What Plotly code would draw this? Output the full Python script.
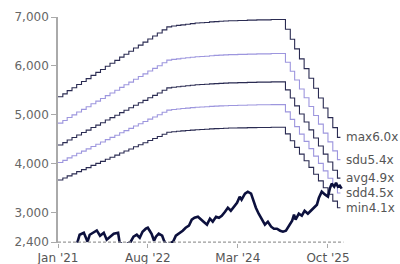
import plotly.graph_objects as go

# ---- data ----
eps_dates = [
    "2021-01-01", "2021-02-01", "2021-03-01", "2021-04-01", "2021-05-01", "2021-06-01",
    "2021-07-01", "2021-08-01", "2021-09-01", "2021-10-01", "2021-11-01", "2021-12-01",
    "2022-01-01", "2022-02-01", "2022-03-01", "2022-04-01", "2022-05-01", "2022-06-01",
    "2022-07-01", "2022-08-01", "2022-09-01", "2022-10-01", "2022-11-01", "2022-12-01",
    "2023-01-01", "2023-02-01", "2023-03-01", "2023-04-01", "2023-05-01", "2023-06-01",
    "2023-07-01", "2023-08-01", "2023-09-01", "2023-10-01", "2023-11-01", "2023-12-01",
    "2024-01-01", "2024-02-01", "2024-03-01", "2024-04-01", "2024-05-01", "2024-06-01",
    "2024-07-01", "2024-08-01", "2024-09-01", "2024-10-01", "2024-11-01", "2024-12-01",
    "2025-01-01", "2025-02-01", "2025-03-01", "2025-04-01", "2025-05-01", "2025-06-01",
    "2025-07-01", "2025-08-01", "2025-09-01", "2025-10-01", "2025-11-01", "2025-12-01",
    "2025-12-20",
]
eps = [
    895, 905, 916, 926, 937, 947, 957, 968, 978, 988, 999, 1009,
    1019, 1030, 1040, 1050, 1061, 1071, 1081, 1092, 1102, 1112, 1123, 1133,
    1136, 1138, 1140, 1142, 1144, 1146, 1147, 1148, 1150, 1151, 1152, 1153,
    1154, 1154, 1155, 1155, 1156, 1156, 1157, 1157, 1157, 1158, 1158, 1158,
    1125, 1091, 1058, 1024, 991, 958, 924, 891, 857, 824, 790, 757,
    757,
]
band_names = ["max", "sdu", "avg", "sdd", "min"]
band_multiples = [6.0, 5.4, 4.9, 4.5, 4.1]
band_colors = ["#2a2b52", "#9d96de", "#2a2b52", "#9d96de", "#2a2b52"]

price_dates = [
    "2021-05-05", "2021-05-20", "2021-06-16", "2021-07-10", "2021-07-24", "2021-08-13",
    "2021-09-07", "2021-09-28", "2021-10-22", "2021-11-10", "2021-12-01", "2021-12-25",
    "2022-01-22", "2022-02-01", "2022-03-04", "2022-04-13", "2022-05-01", "2022-05-22",
    "2022-06-10", "2022-06-28", "2022-07-19", "2022-08-01", "2022-08-13", "2022-08-25",
    "2022-09-10", "2022-09-22", "2022-10-10", "2022-11-01", "2022-11-13", "2022-12-01",
    "2022-12-19", "2023-01-10", "2023-01-28", "2023-02-24", "2023-03-13", "2023-04-01",
    "2023-04-22", "2023-05-10", "2023-05-28", "2023-06-19", "2023-07-07", "2023-07-25",
    "2023-08-16", "2023-09-04", "2023-09-22", "2023-10-13", "2023-11-01", "2023-11-19",
    "2023-12-10", "2023-12-28", "2024-01-16", "2024-02-07", "2024-02-25", "2024-03-13",
    "2024-03-25", "2024-04-16", "2024-05-04", "2024-05-25", "2024-06-07", "2024-06-25",
    "2024-07-13", "2024-08-04", "2024-08-22", "2024-09-10", "2024-10-01", "2024-10-19",
    "2024-11-07", "2024-11-28", "2024-12-16", "2025-01-04", "2025-01-25", "2025-02-13",
    "2025-02-25", "2025-03-07", "2025-03-28", "2025-04-16", "2025-05-04", "2025-05-25",
    "2025-06-13", "2025-07-01", "2025-07-22", "2025-08-04", "2025-08-22", "2025-09-13",
    "2025-10-01", "2025-10-13", "2025-10-25", "2025-11-10", "2025-11-22", "2025-12-04",
    "2025-12-16", "2025-12-28",
]
price = [
    2390, 2553, 2594, 2410, 2553, 2594,
    2641, 2533, 2594, 2451, 2512, 2574,
    2594, 2390, 2330, 2410, 2512, 2553,
    2492, 2615, 2676, 2696, 2635, 2574,
    2430, 2512, 2574, 2533, 2430, 2330,
    2370, 2410, 2533, 2594, 2635, 2696,
    2737, 2860, 2900, 2921, 2860, 2819,
    2758, 2880, 2819, 2921, 2900, 2941,
    3023, 3105, 3043, 3146, 3207, 3330,
    3269, 3391, 3432, 3391, 3269, 3105,
    2982, 2860, 2758, 2819, 2717, 2676,
    2676, 2635, 2615, 2635, 2758, 2840,
    2962, 2860, 2982, 2941, 3043, 2982,
    3043, 3105, 3166, 3310, 3432, 3371,
    3330, 3494, 3596, 3534, 3616, 3534,
    3555, 3494,
]
floor_dates = ["2021-01-01", "2026-01-08"]
floor_values = [2400, 2400]

y_tickvals = [2400, 3000, 4000, 5000, 6000, 7000]
y_ticktext = ["2,400", "3,000", "4,000", "5,000", "6,000", "7,000"]
x_tickvals = ["2021-01-01", "2022-08-01", "2024-03-01", "2025-10-01"]
x_ticktext = ["Jan '21", "Aug '22", "Mar '24", "Oct '25"]

FONT = "DejaVu Sans"

fig = go.Figure()

annotations = []
for name, mult, col in zip(band_names, band_multiples, band_colors):
    vals = [e * mult for e in eps]
    fig.add_trace(go.Scatter(
        x=eps_dates, y=vals, mode="lines", line_shape="hv",
        line=dict(color=col, width=1.1), name=name, showlegend=False,
    ))
    annotations.append(dict(
        x=eps_dates[-1], y=vals[-1], xref="x", yref="y",
        text=f"{name}{mult:.1f}x", showarrow=False,
        xanchor="left", yanchor="middle", xshift=4,
        font=dict(family=FONT, size=12, color="#555555"),
    ))

fig.add_trace(go.Scatter(
    x=price_dates, y=price, mode="lines",
    line=dict(color="#0c103d", width=2.6),
    name="price", showlegend=False,
))

fig.add_trace(go.Scatter(
    x=floor_dates, y=floor_values, mode="lines",
    line=dict(color="#9a9a9a", width=1.2, dash="3px,2px"),
    hoverinfo="skip", showlegend=False,
))

fig.update_layout(
    width=400, height=264,
    margin=dict(l=58, r=56, t=17, b=21, autoexpand=False),
    paper_bgcolor="white", plot_bgcolor="white",
    font=dict(family=FONT, size=12, color="#666666"),
    annotations=annotations,
    showlegend=False,
)
fig.update_xaxes(
    type="date", range=["2021-01-01", "2026-01-12"],
    tickvals=x_tickvals, ticktext=x_ticktext,
    showgrid=False, zeroline=False, showline=False,
    ticks="outside", ticklen=4, tickcolor="#aaaaaa",
    tickfont=dict(family=FONT, size=12, color="#555555"),
    automargin=False,
)
fig.update_yaxes(
    range=[2384, 7000],
    tickvals=y_tickvals, ticktext=y_ticktext,
    showgrid=False, zeroline=False,
    showline=True, linecolor="#aaaaaa", linewidth=1.5,
    ticks="outside", ticklen=5, tickcolor="#aaaaaa",
    tickfont=dict(family=FONT, size=12, color="#666666"),
    automargin=False,
)

fig.write_html(
    "out.html",
    config={"displayModeBar": False},
    post_script="document.body.style.margin='0';",
)
